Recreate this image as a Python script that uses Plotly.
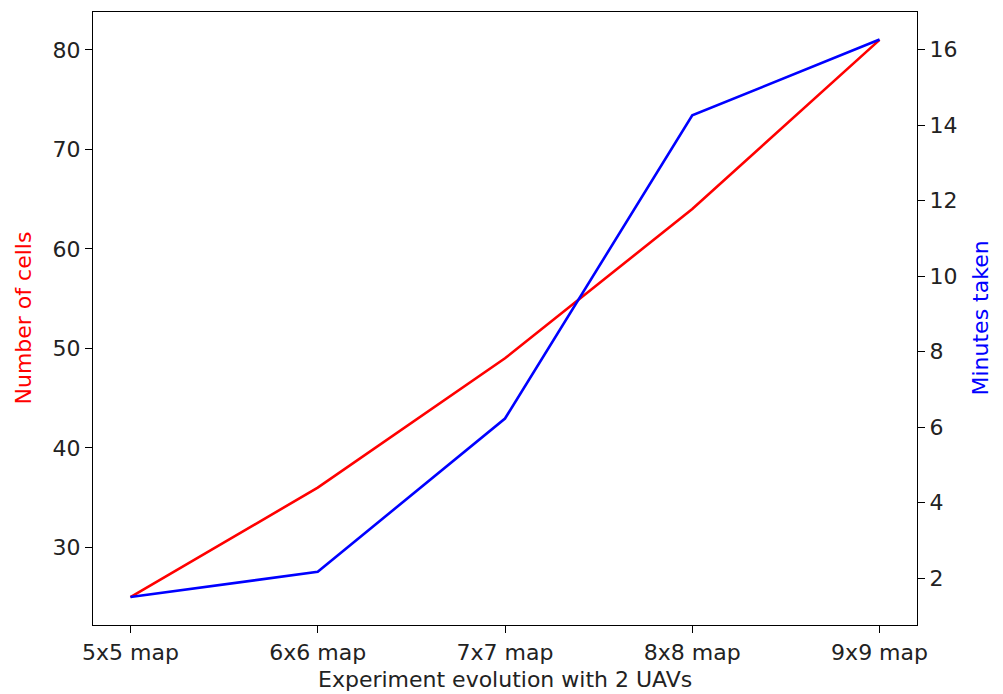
import plotly.graph_objects as go

categories = ["5x5 map", "6x6 map", "7x7 map", "8x8 map", "9x9 map"]
cells = [25, 36, 49, 64, 81]
minutes = [1.5, 2.17, 6.23, 14.26, 16.27]

left_ticks = [30, 40, 50, 60, 70, 80]
right_ticks = [2, 4, 6, 8, 10, 12, 14, 16]

FONT = "DejaVu Sans"
FS = 22

x_idx = list(range(len(categories)))

fig = go.Figure()
fig.add_trace(go.Scatter(x=x_idx, y=cells, mode="lines",
                         line=dict(color="#ff0000", width=2.6), yaxis="y", showlegend=False))
fig.add_trace(go.Scatter(x=x_idx, y=minutes, mode="lines",
                         line=dict(color="#0000ff", width=2.6), yaxis="y2", showlegend=False))

axis_common = dict(showline=True, linecolor="black", linewidth=1.3, ticks="outside",
                   ticklen=7, tickwidth=1.3, tickcolor="black", showgrid=False, zeroline=False,
                   automargin=False,
                   tickfont=dict(family=FONT, size=FS, color="#222222"))

fig.update_layout(
    width=1003, height=694,
    margin=dict(l=93, r=86, t=12, b=69),
    plot_bgcolor="white", paper_bgcolor="white",
    font=dict(family=FONT, size=FS, color="black"),
    xaxis=dict(**axis_common, range=[-0.2, 4.2], tickvals=x_idx, ticktext=categories,
               mirror=True),
    yaxis=dict(**axis_common, range=[22.2, 83.8], tickvals=left_ticks),
    yaxis2=dict(**axis_common, range=[0.76, 17.0], tickvals=right_ticks, overlaying="y",
                side="right"),
    annotations=[
        dict(text="Experiment evolution with 2 UAVs", xref="paper", yref="paper",
             x=0.5, y=0, xanchor="center", yanchor="middle", yshift=-54, showarrow=False,
             font=dict(family=FONT, size=FS, color="#222222")),
        dict(text="Number of cells", xref="paper", yref="paper", textangle=-90,
             x=0, y=0.5, xanchor="center", yanchor="middle", xshift=-70, showarrow=False,
             font=dict(family=FONT, size=FS, color="#ff0000")),
        dict(text="Minutes taken", xref="paper", yref="paper", textangle=-90,
             x=1, y=0.5, xanchor="center", yanchor="middle", xshift=63, showarrow=False,
             font=dict(family=FONT, size=FS, color="#0000ff")),
    ],
)

fig.write_html("out.html")
